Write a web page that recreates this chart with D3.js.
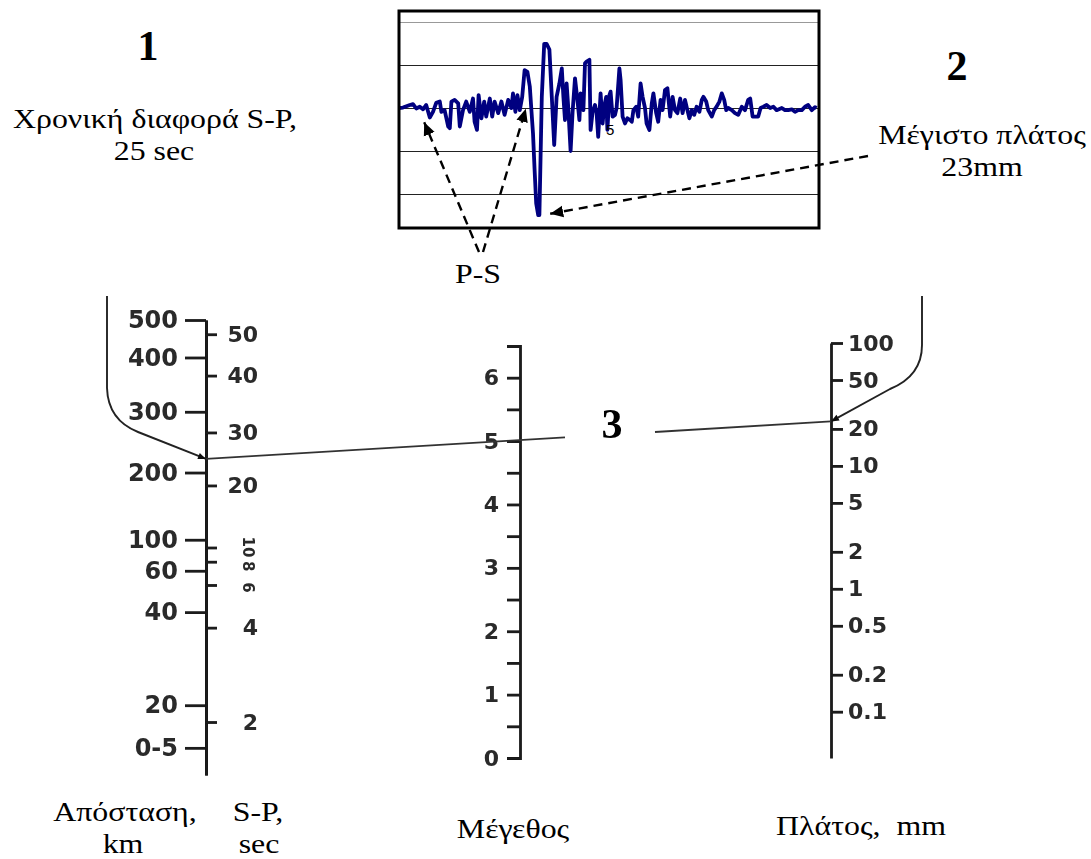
<!DOCTYPE html>
<html>
<head>
<meta charset="utf-8">
<script src="https://cdn.jsdelivr.net/npm/d3@7"></script>
<style>
  body { margin: 0; background: #fff; }
  svg { display: block; }
  .serif { font-family: "Liberation Serif", "Times New Roman", serif; fill: #000; }
  .nomo text { font-family: "DejaVu Sans", sans-serif; font-weight: bold; fill: #2a2a2a; font-size: 22px; }
</style>
</head>
<body>
<svg></svg>
<script>
// seismogram trace, time in s, amplitude in grid units
var traceTime = [
  0, 1.0, 2.7, 3.5, 4.3, 5.2, 6.0, 6.8, 7.7, 8.5,
  9.3, 10.2, 10.6, 11.4, 12.3, 12.7, 13.1, 13.9, 14.8, 15.2,
  16.0, 16.8, 17.7, 18.5, 18.9, 19.5, 19.9, 20.6, 21.3, 21.8,
  22.7, 23.3, 23.9, 24.8, 25.6, 26.4, 27.3, 28.1, 28.5, 29.1,
  29.6, 30.2, 30.8, 31.4, 32.1, 32.7, 33.1, 33.5, 33.9, 34.3,
  34.8, 35.1, 35.7, 36.3, 36.9, 37.6, 38.2, 38.8, 39.4, 40.1,
  40.7, 41.1, 41.5, 41.9, 42.3, 42.9, 43.4, 44.0, 44.6, 45.1,
  45.4, 46.1, 46.5, 46.9, 47.6, 47.9, 48.4, 49.0, 49.4, 49.8,
  50.4, 50.9, 51.3, 51.8, 52.1, 52.6, 52.9, 53.4, 54.0, 54.4,
  55.1, 55.4, 55.9, 56.5, 57.1, 57.8, 58.2, 58.6, 59.3, 59.8,
  60.4, 60.9, 61.5, 61.9, 62.6, 63.2, 63.6, 64.3, 64.8, 65.4,
  65.9, 66.5, 67.1, 67.8, 68.4, 69.0, 69.6, 70.3, 70.9, 71.5,
  72.1, 72.6, 73.2, 73.8, 74.4, 75.1, 75.7, 76.1, 76.8, 77.3,
  78.2, 78.8, 79.4, 80.1, 80.7, 81.3, 81.8, 82.3, 83.2, 84.0,
  84.8, 85.7, 86.5, 87.3, 87.8, 88.4, 89.0, 89.8, 90.4, 91.1,
  91.9, 92.8, 93.6, 94.4, 95.7, 96.5, 97.3, 98.2, 99.0, 99.8,
  100.7, 101.5, 102.3, 103.2, 104.0, 104.4
];
var traceAmp = [
  0, 0.01, 0.07, 0.09, -0.01, 0.03, -0.03, 0.07, -0.22, -0.09,
  0.12, 0.15, -0.09, -0.05, -0.43, -0.47, 0.15, 0.19, 0.11, -0.43,
  -0.05, 0.15, -0.09, 0.22, -0.32, -0.51, 0.30, -0.24, 0.15, -0.2,
  0.22, -0.2, 0.15, -0.12, 0.15, -0.16, 0.19, 0, 0.34, -0.09,
  0.30, -0.05, 0.26, 0.88, 0.84, 0.50, -0.05, -0.59, -1.44, -2.22,
  -2.49, -2.49, 0.26, 1.49, 1.49, 1.36, 0.26, -0.86, 0.26, 0.57,
  0.92, 0.26, -0.28, 0.57, 0.03, -1.0, -0.09, 0.69, 0.19, -0.28,
  0.34, -0.05, 1.04, 1.08, 1.12, -0.51, -0.09, 0.07, -0.12, -0.67,
  0.34, -0.36, 0.03, 0.26, -0.51, 0.30, 0.38, -0.2, -0.16, 0,
  0.92, 0.65, -0.2, -0.36, -0.24, -0.28, -0.32, -0.05, 0.03, -0.2,
  0.57, 0.26, 0, -0.36, -0.51, 0.11, 0.34, -0.12, -0.32, 0.19,
  -0.05, 0.42, 0.46, -0.2, 0.26, -0.05, -0.12, 0.22, -0.12, 0.19,
  -0.05, -0.24, -0.05, -0.16, 0.03, -0.09, 0.19, 0.26, 0.15, -0.05,
  -0.2, -0.05, 0.03, 0.15, 0.34, 0.19, -0.05, 0, -0.05, -0.12,
  -0.16, 0.03, -0.05, 0.19, 0.22, -0.2, -0.2, -0.2, 0, 0.03,
  0.07, 0, 0.03, -0.05, 0, -0.05, -0.05, -0.03, -0.09, -0.05,
  -0.05, 0.03, 0.07, -0.05, 0.02, 0
];
var gridLevels = [2, 1, 0, -1, -2];

// picks on the trace
var pPick = [6.3, -0.33];
var sPick = [31.7, -0.02];
var maxPick = [37.8, -2.46];

// nomogram: distance scale (km) and S-P scale (sec), both placed on the -logA0 reading
var kmTicks  = [5, 20, 40, 60, 100, 200, 300, 400, 500];
var kmLabels = ['0-5', '20', '40', '60', '100', '200', '300', '400', '500'];
var kmQ      = [1.39, 1.72, 2.44, 2.76, 3.0, 3.52, 3.99, 4.41, 4.70];
var secTicks = [2, 4, 6, 8, 10, 20, 30, 40, 50];
var secQ     = [1.59, 2.32, 2.65, 2.83, 2.94, 3.42, 3.83, 4.27, 4.59];
var magTicks = [0, 0.5, 1, 1.5, 2, 2.5, 3, 3.5, 4, 4.5, 5, 5.5, 6];
var ampTicks = [0.1, 0.2, 0.5, 1, 2, 5, 10, 20, 50, 100];
var ampLabels = ['0.1', '0.2', '0.5', '1', '2', '5', '10', '20', '50', '100'];

// the worked reading
var spDiff = 25, maxAmp = 23, magnitude = 5;

var svg = d3.select('svg').attr('width', 1091).attr('height', 859);

var defs = svg.append('defs');
defs.append('marker').attr('id', 'ah')
    .attr('viewBox', '0 0 10 10').attr('refX', 10).attr('refY', 5)
    .attr('markerWidth', 13).attr('markerHeight', 13)
    .attr('markerUnits', 'userSpaceOnUse').attr('orient', 'auto')
  .append('path').attr('d', 'M0,0.5L10,5L0,9.5Z').attr('fill', '#000');
defs.append('marker').attr('id', 'ah2')
    .attr('viewBox', '0 0 10 10').attr('refX', 10).attr('refY', 5)
    .attr('markerWidth', 15).attr('markerHeight', 8)
    .attr('markerUnits', 'userSpaceOnUse').attr('orient', 'auto')
  .append('path').attr('d', 'M0,1L10,5L0,9Z').attr('fill', '#111');
defs.append('filter').attr('id', 'scan')
  .append('feGaussianBlur').attr('stdDeviation', 0.45);

// ---------- seismogram ----------
var x = d3.scaleLinear().domain([0, 105]).range([399, 819]);
var y = d3.scaleLinear().domain([-1, 1]).range([151, 65]);

var seis = svg.append('g');
seis.selectAll('line.grid')
    .data(gridLevels)
    .enter().append('line')
    .attr('x1', 399).attr('x2', 819)
    .attr('y1', function(d) { return Math.round(y(d)) + 0.5; })
    .attr('y2', function(d) { return Math.round(y(d)) + 0.5; })
    .attr('stroke', function(d) { return d === 2 ? '#999' : '#222'; })
    .attr('stroke-width', 1);

var pts = traceTime.map(function(t, i) { return [t, traceAmp[i]]; });
seis.append('path')
    .datum(pts)
    .attr('d', d3.line().x(function(d) { return x(d[0]); }).y(function(d) { return y(d[1]); }))
    .attr('fill', 'none')
    .attr('stroke', '#000080')
    .attr('stroke-width', 3.8)
    .attr('stroke-linejoin', 'round');

seis.append('text')
    .attr('x', x(52.8)).attr('y', y(-0.5))
    .attr('dy', '0.35em').attr('text-anchor', 'middle')
    .style('font-family', 'Liberation Sans, sans-serif')
    .style('font-size', '15px')
    .text('5');

seis.append('rect')
    .attr('x', 399).attr('y', 11).attr('width', 420).attr('height', 217)
    .attr('fill', 'none').attr('stroke', '#000').attr('stroke-width', 3);

// dashed pointers
var arrows = [
    [[479, 252], pPick],
    [[483, 252], sPick],
    [[868, 156], maxPick]
];
svg.selectAll('line.arrow')
    .data(arrows)
    .enter().append('line')
    .attr('x1', function(d) { return d[0][0]; })
    .attr('y1', function(d) { return d[0][1]; })
    .attr('x2', function(d) { return x(d[1][0]); })
    .attr('y2', function(d) { return y(d[1][1]); })
    .attr('stroke', '#000')
    .attr('stroke-width', 2.4)
    .attr('stroke-dasharray', '9,6')
    .attr('marker-end', 'url(#ah)');

// ---------- nomogram ----------
var nomo = svg.append('g').attr('class', 'nomo').attr('filter', 'url(#scan)');
var yQ = d3.scaleLinear().domain([1.18, 4.70]).range([775, 320]);
var yM = d3.scaleLinear().domain([0, 6.5]).range([758, 346]);
var yA = d3.scaleLog().domain([0.042, 100]).range([758, 343]);
var xL = 206, xM = 520, xR = 831;

var gKm = nomo.append('g').attr('transform', 'translate(' + xL + ',0)')
    .call(d3.axisLeft(yQ).tickValues(kmQ)
        .tickFormat(function(d, i) { return kmLabels[i]; })
        .tickSize(21).tickSizeOuter(0).tickPadding(7));
gKm.selectAll('.tick text').style('font-size', '24px');

// the crowded 10 / 8 / 6 labels are printed sideways
var sideways = { 10: -1, 8: 4, 6: 2 };
var gSec = nomo.append('g').attr('transform', 'translate(' + xL + ',0)')
    .call(d3.axisRight(yQ).tickValues(secQ)
        .tickFormat(function(d, i) { return secTicks[i]; })
        .tickSize(11).tickSizeOuter(0));
gSec.selectAll('.tick text')
    .attr('text-anchor', 'end').attr('x', 52)
    .filter(function(d, i) { return sideways[secTicks[i]] !== undefined; })
    .attr('x', null).attr('dy', '0.35em')
    .attr('text-anchor', 'middle')
    .attr('transform', function(d, i, n) {
        var v = +d3.select(this).text();
        return 'translate(42,' + sideways[v] + ') rotate(90)';
    })
    .style('font-size', '15px');

nomo.append('g').attr('transform', 'translate(' + xM + ',0)')
    .call(d3.axisLeft(yM).tickValues(magTicks)
        .tickFormat(function(d) { return d % 1 ? '' : d; })
        .tickSize(13).tickSizeOuter(13).tickPadding(8));

nomo.append('g').attr('transform', 'translate(' + xR + ',0)')
    .call(d3.axisRight(yA).tickValues(ampTicks)
        .tickFormat(function(d, i) { return ampLabels[i]; })
        .tickSize(12).tickSizeOuter(0).tickPadding(5));

nomo.selectAll('.domain, .tick line')
    .attr('stroke', '#1a1a1a').attr('stroke-width', 2.8);
nomo.selectAll('.domain').attr('fill', 'none');

// reading line through the three scales
var secToQ = d3.scaleLinear().domain(secTicks).range(secQ);
var p0 = [xL, yQ(secToQ(spDiff))];
var p1 = [xR, yA(maxAmp)];
var lineAt = function(px) { return p0[1] + (p1[1] - p0[1]) * (px - p0[0]) / (p1[0] - p0[0]); };
[[p0[0], 565], [655, p1[0]]].forEach(function(seg) {
    nomo.append('line')
        .attr('x1', seg[0]).attr('y1', lineAt(seg[0]))
        .attr('x2', seg[1]).attr('y2', lineAt(seg[1]))
        .attr('stroke', '#333').attr('stroke-width', 1.8);
});

// curved pointers onto the scales
var cl = d3.path();
cl.moveTo(107, 296);
cl.lineTo(107, 388);
cl.quadraticCurveTo(108, 420, 138, 432);
cl.lineTo(p0[0], p0[1]);
nomo.append('path').attr('d', cl.toString())
    .attr('fill', 'none').attr('stroke', '#222').attr('stroke-width', 1.9)
    .attr('marker-end', 'url(#ah2)');

var cr = d3.path();
cr.moveTo(922, 296);
cr.lineTo(922, 345);
cr.quadraticCurveTo(922, 376, 890, 389);
cr.lineTo(p1[0], p1[1]);
nomo.append('path').attr('d', cr.toString())
    .attr('fill', 'none').attr('stroke', '#222').attr('stroke-width', 1.9)
    .attr('marker-end', 'url(#ah2)');

// ---------- texts ----------
// the document text is set a little wide, so it is stretched sideways
var texts = [
    ['1', 148, 60, 42, 'bold', 1],
    ['Χρονική διαφορά S-P,', 155, 128, 27, 'normal', 1.18],
    ['25 sec', 154, 160, 27, 'normal', 1.18],
    ['2', 957, 80, 42, 'bold', 1],
    ['Μέγιστο πλάτος', 982, 144, 27, 'normal', 1.18],
    ['23mm', 982, 176, 27, 'normal', 1.18],
    ['P-S', 478, 283, 27, 'normal', 1.18],
    ['3', 612, 438, 42, 'bold', 1],
    ['Απόσταση,', 125, 821, 27, 'normal', 1.18],
    ['km', 123, 853, 27, 'normal', 1.18],
    ['S-P,', 258, 821, 27, 'normal', 1.18],
    ['sec', 259, 853, 27, 'normal', 1.18],
    ['Μέγεθος', 513, 838, 27, 'normal', 1.18],
    ['Πλάτος,  mm', 861, 835, 27, 'normal', 1.18]
];
svg.selectAll('text.lbl')
    .data(texts)
    .enter().append('text')
    .attr('class', 'serif')
    .attr('transform', function(d) { return 'translate(' + d[1] + ',' + d[2] + ') scale(' + d[5] + ',1)'; })
    .attr('text-anchor', 'middle')
    .style('font-size', function(d) { return d[3] + 'px'; })
    .style('font-weight', function(d) { return d[4]; })
    .style('white-space', 'pre')
    .text(function(d) { return d[0]; });
</script>
</body>
</html>
